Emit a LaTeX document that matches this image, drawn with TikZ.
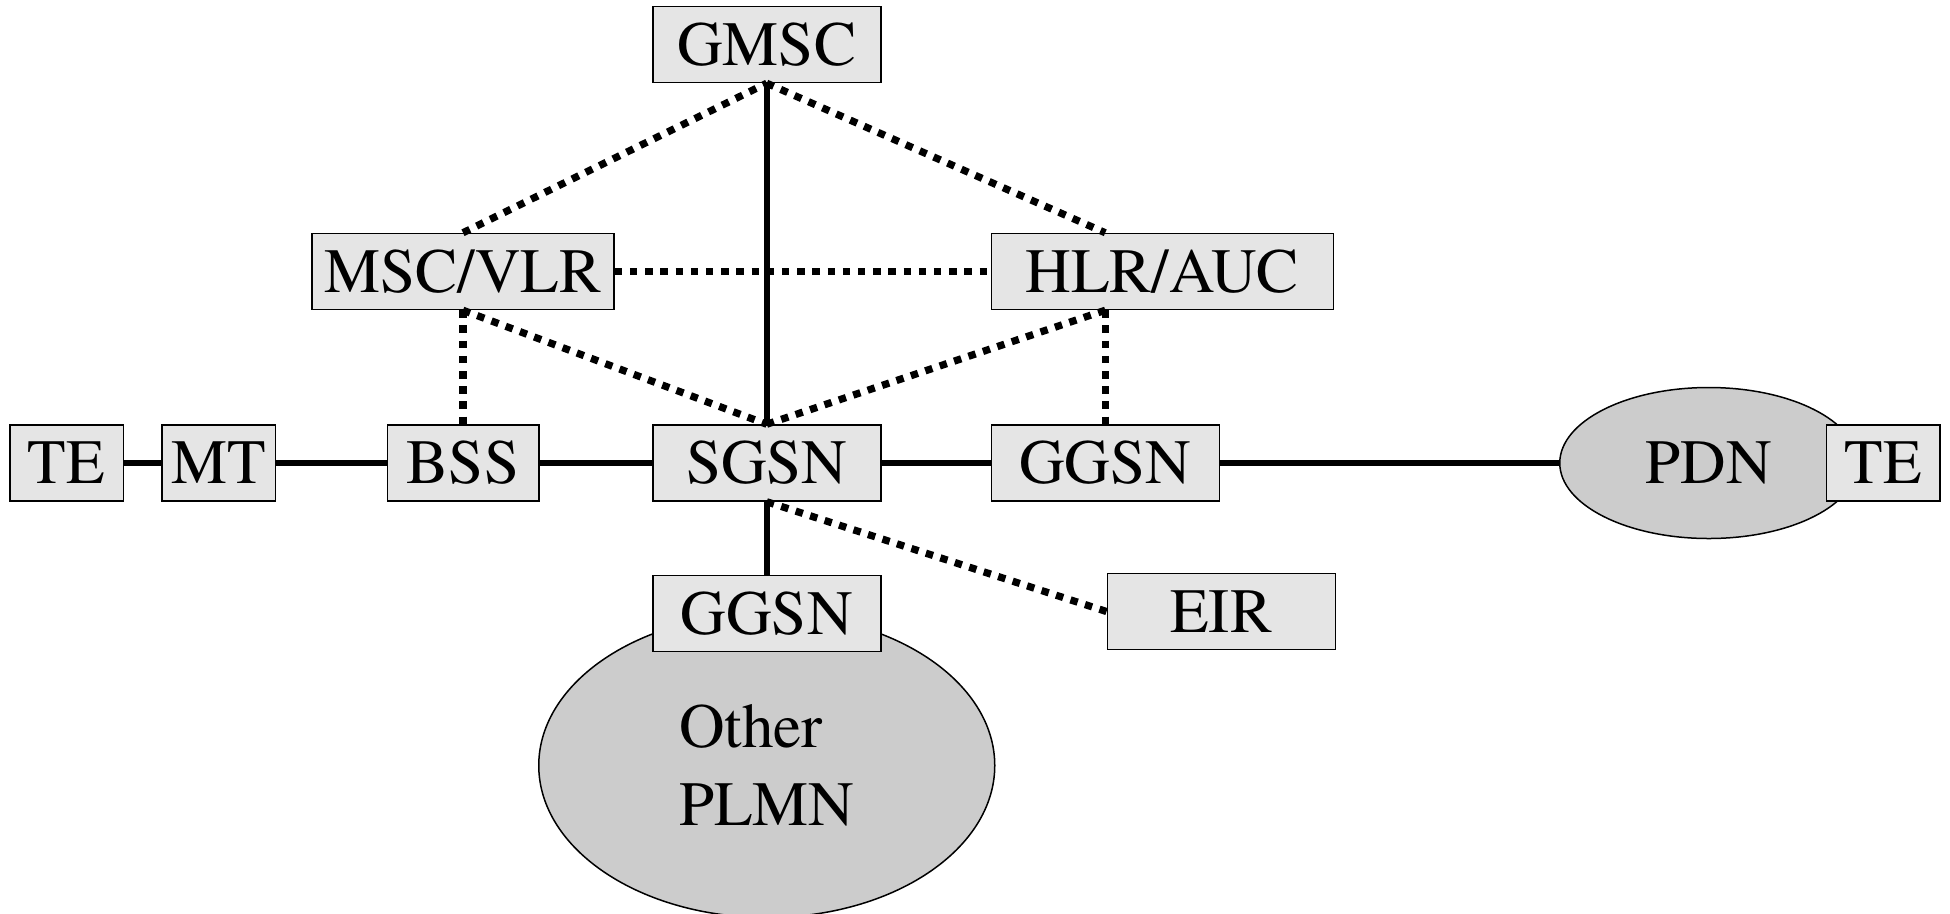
\documentclass[tikz,border=0pt]{standalone}
\usepackage{fontspec}
\newfontfamily\nodefont{texgyretermes}[Extension=.otf, UprightFont=*-regular]
\usetikzlibrary{positioning, shapes.geometric}

\begin{document}
\begin{tikzpicture}[
          font=\nodefont\fontsize{35.9}{44.4}\selectfont,
          box/.style={draw=black, line width=0.03cm, fill=gray!20,
                      minimum height=1.52cm, inner sep=0pt},
          net/.style={ellipse, draw=black, line width=0.03cm, fill=gray!40, inner sep=0pt},
          link/.style={line width=0.13cm},
          dots/.style={line width=0.145cm, dash pattern=on 0.15cm off 0.154cm}
        ]
        \useasboundingbox (0,0) rectangle (39,-18.26);

        \node[box, minimum width=2.27cm] (te1) at (1.33,-9.26) {TE};
        \node[box, minimum width=2.27cm, right=0.74cm of te1] (mt) {MT};
        \node[box, minimum width=3.03cm, right=2.21cm of mt] (bss) {BSS};
        \node[box, minimum width=4.56cm, right=2.25cm of bss] (sgsn) {SGSN};
        \node[box, minimum width=4.56cm, right=2.18cm of sgsn] (ggsn) {GGSN};
        \node[net, minimum width=5.96cm, minimum height=3.02cm, right=6.78cm of ggsn] (pdn) {PDN};
        \node[box, minimum width=2.27cm, right=-0.66cm of pdn] (te2) {TE};

        \node[box, minimum width=6.04cm, above=2.28cm of bss] (msc) {MSC/VLR};
        \node[box, minimum width=6.84cm, above right=2.28cm and 0cm of ggsn.north west] (hlr) {HLR/AUC};
        \node[box, minimum width=4.56cm, above=6.82cm of sgsn] (gmsc) {GMSC};

        \node[net, minimum width=9.12cm, minimum height=6.08cm, align=left,
              below=2.14cm of sgsn, yshift=-0.08cm] (plmn) {Other\\PLMN};
        \node[box, minimum width=4.56cm, below=1.46cm of sgsn] (ggsn2) {GGSN};
        \node[box, minimum width=4.56cm, below right=1.42cm and 2.32cm of ggsn.south west] (eir) {EIR};

        \draw[dots] (msc.north) -- (gmsc.south);
        \draw[dots] (gmsc.south) -- (hlr.north -| ggsn);
        \draw[dots] (msc) -- (hlr);
        \draw[dots] (msc.south) -- (bss.north);
        \draw[dots] (msc.south) -- (sgsn.north);
        \draw[dots] (hlr.south -| ggsn) -- (sgsn.north);
        \draw[dots] (hlr.south -| ggsn) -- (ggsn.north);
        \draw[dots] (sgsn.south) -- (eir.west);

        \draw[link] (gmsc) -- (sgsn);
        \draw[link] (sgsn) -- (ggsn2);
        \draw[link] (te1) -- (mt);
        \draw[link] (mt) -- (bss);
        \draw[link] (bss) -- (sgsn);
        \draw[link] (sgsn) -- (ggsn);
        \draw[link] (ggsn) -- (pdn);
      \end{tikzpicture}
\end{document}
